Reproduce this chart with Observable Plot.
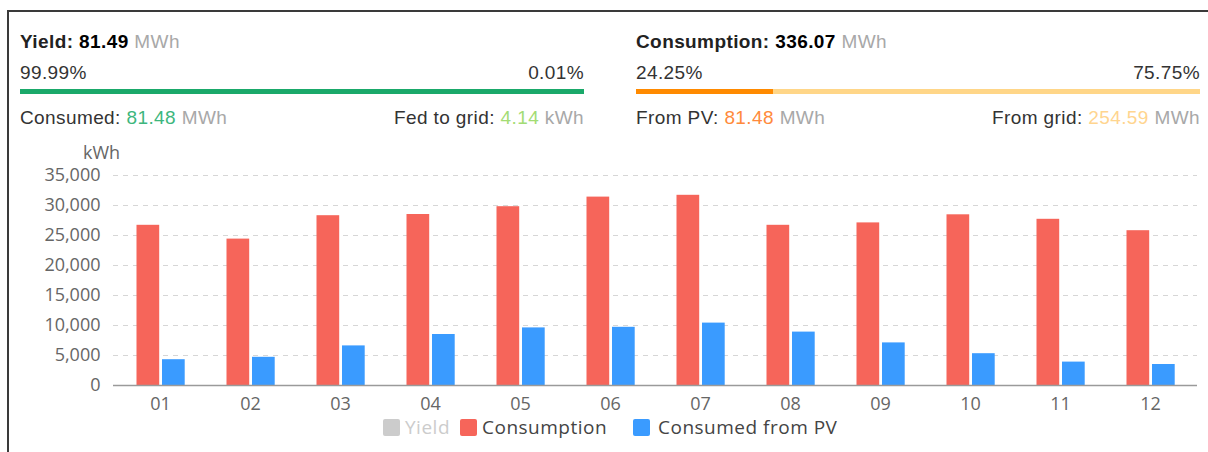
<!DOCTYPE html>
<html>
<head>
<meta charset="utf-8">
<script src="https://cdn.jsdelivr.net/npm/d3@7"></script>
<script src="https://cdn.jsdelivr.net/npm/@observablehq/plot@0.6"></script>
<style>
  html, body { margin:0; padding:0; background:#fff; width:1208px; height:452px; overflow:hidden; }
  .frame { position:absolute; left:7px; top:10px; width:1240px; height:480px; border:2px solid #3a3a3a; box-sizing:border-box; }
  .hdr { position:absolute; font-family:"Liberation Sans", Arial, sans-serif; font-size:19px; letter-spacing:0.4px; color:#333; line-height:20px; white-space:nowrap; }
  .row { position:absolute; left:0; right:0; display:flex; justify-content:space-between; }
  .unit { color:#a8a8a8; }
  .big { font-weight:bold; color:#000; }
  .lbl { font-weight:bold; color:#222; }
  .bar { position:absolute; left:0; right:0; height:5px; display:flex; }
  #chart { position:absolute; left:0; top:140px; }
  .lg { position:absolute; top:427px; transform:translateY(-50%); font-family:"Open Sans", sans-serif; font-size:19px; letter-spacing:0.5px; color:#444; white-space:nowrap; line-height:22px; }
  .sw { position:absolute; top:419px; width:17px; height:17px; border-radius:2px; }
</style>
</head>
<body>
<div class="frame"></div>

<div class="hdr" style="left:20px; top:0; width:564px; height:140px;">
  <div class="row" style="top:32px;"><span><span class="lbl">Yield: </span><span class="big">81.49</span> <span class="unit">MWh</span></span></div>
  <div class="row" style="top:63px;"><span id="yl1"></span><span id="yl2"></span></div>
  <div class="bar" style="top:89px;" id="ybar"></div>
  <div class="row" style="top:108px;"><span>Consumed: <span style="color:#3db67d">81.48</span> <span class="unit">MWh</span></span><span>Fed to grid: <span style="color:#a3dc74">4.14</span> <span class="unit">kWh</span></span></div>
</div>

<div class="hdr" style="left:636px; top:0; width:564px; height:140px;">
  <div class="row" style="top:32px;"><span><span class="lbl">Consumption: </span><span class="big">336.07</span> <span class="unit">MWh</span></span></div>
  <div class="row" style="top:63px;"><span id="cl1"></span><span id="cl2"></span></div>
  <div class="bar" style="top:89px;" id="cbar"></div>
  <div class="row" style="top:108px;"><span>From PV: <span style="color:#ff8a3c">81.48</span> <span class="unit">MWh</span></span><span>From grid: <span style="color:#ffd58f">254.59</span> <span class="unit">MWh</span></span></div>
</div>

<div id="chart"></div>

<div class="sw" style="left:383px; background:#cccccc"></div><span class="lg" style="left:405px; color:#cccccc;">Yield</span>
<div class="sw" style="left:460px; background:#f6655a"></div><span class="lg" style="left:482px;">Consumption</span>
<div class="sw" style="left:633px; background:#3a9bff"></div><span class="lg" style="left:658px;">Consumed from PV</span>

<script>
// ---- data ----
const months = ["01","02","03","04","05","06","07","08","09","10","11","12"];
const consumption = [26700, 24400, 28300, 28500, 29800, 31400, 31700, 26700, 27100, 28450, 27700, 25800];
const consumedFromPV = [4300, 4700, 6600, 8500, 9600, 9700, 10400, 8900, 7100, 5300, 3900, 3500];
const yTicks = [0, 5000, 10000, 15000, 20000, 25000, 30000, 35000];
const yieldShares = [99.99, 0.01];        // consumed, fed to grid (%)
const consumptionShares = [24.25, 75.75]; // from PV, from grid (%)

// header share bars & percentages
function shareBar(el, shares, colors) {
  shares.forEach((s, i) => {
    const d = document.createElement("div");
    d.style.flex = String(s);
    d.style.background = colors[i];
    el.appendChild(d);
  });
}
document.getElementById("yl1").textContent = yieldShares[0].toFixed(2) + "%";
document.getElementById("yl2").textContent = yieldShares[1].toFixed(2) + "%";
document.getElementById("cl1").textContent = consumptionShares[0].toFixed(2) + "%";
document.getElementById("cl2").textContent = consumptionShares[1].toFixed(2) + "%";
shareBar(document.getElementById("ybar"), yieldShares, ["#1aa96a", "#8fd8b0"]);
shareBar(document.getElementById("cbar"), consumptionShares, ["#ff8a00", "#ffd688"]);

const data = months.map((m, i) => ({month: m, consumption: consumption[i], pv: consumedFromPV[i]}));
const fmt = d3.format(",");

const chart = Plot.plot({
  width: 1208,
  height: 280,
  marginTop: 35,
  marginBottom: 35,
  marginLeft: 113,
  marginRight: 11,
  style: {fontFamily: "Open Sans, sans-serif", fontSize: "18px", color: "#666", background: "transparent"},
  x: {domain: months, padding: 0, label: null},
  y: {domain: [0, 35000], label: null},
  marks: [
    Plot.gridY(yTicks.slice(1), {stroke: "#d6d6d6", strokeOpacity: 1, strokeDasharray: "5,5"}),
    Plot.barY(data, {x: "month", y: "consumption", fill: "#f6655a", insetLeft: 21.5, insetRight: 45.8}),
    Plot.barY(data, {x: "month", y: "pv", fill: "#3a9bff", insetLeft: 47, insetRight: 20.3}),
    Plot.ruleY([0], {stroke: "#9a9a9a", strokeWidth: 1.5}),
    Plot.axisX({tickSize: 0, tickPadding: 12, fill: "#666", label: null}),
    Plot.axisY(yTicks, {tickSize: 0, tickPadding: 13, fill: "#666", tickFormat: fmt, label: null}),
    Plot.text(["kWh"], {frameAnchor: "top-left", dx: -12, dy: -29, textAnchor: "middle", fill: "#666"})
  ]
});
document.getElementById("chart").appendChild(chart);
</script>
</body>
</html>
